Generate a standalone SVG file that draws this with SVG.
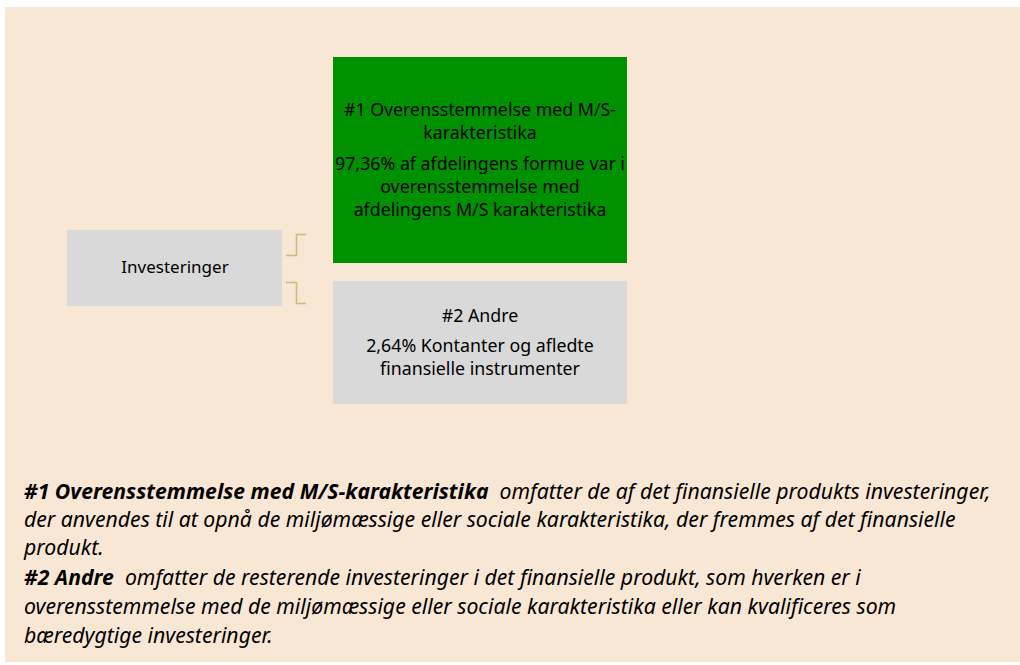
<svg xmlns="http://www.w3.org/2000/svg" width="1020" height="665" viewBox="0 0 1020 665">
<style>
.t{font-family:"Noto Sans","Liberation Sans",sans-serif;font-size:17.8px;fill:#000;text-anchor:middle}
.b{font-family:"Noto Sans","Liberation Sans",sans-serif;font-size:21.2px;font-style:italic;fill:#000}
.bb{font-weight:bold}
.c{fill:none;stroke:#c8b46a;stroke-width:1.6;stroke-opacity:0.85}
</style>
<rect x="5" y="7" width="1015" height="655" fill="#f9e7d5"/>
<g id="connectors">
<path class="c" d="M286 255.5 H296.5 V234.5 H306"/>
<path class="c" d="M286 282.5 H296.5 V303.5 H306"/>
</g>
<g id="investeringer">
<rect x="67" y="230" width="215" height="76" fill="#d9d9d9"/>
<text class="t" x="175" y="273" style="font-size:17px">Investeringer</text>
</g>
<g id="node1">
<rect x="333" y="57" width="294" height="206" fill="#009100"/>
<text class="t" x="480" y="116">#1 Overensstemmelse med M/S-</text>
<text class="t" x="480" y="139">karakteristika</text>
<text class="t" x="480" y="170">97,36% af afdelingens formue var i</text>
<text class="t" x="480" y="193">overensstemmelse med</text>
<text class="t" x="480" y="216">afdelingens M/S karakteristika</text>
</g>
<g id="node2">
<rect x="333" y="281" width="294" height="123" fill="#d9d9d9"/>
<text class="t" x="480" y="322">#2 Andre</text>
<text class="t" x="480" y="352">2,64% Kontanter og afledte</text>
<text class="t" x="480" y="375">finansielle instrumenter</text>
</g>
<g id="legend">
<text class="b" x="24" y="499"><tspan class="bb">#1 Overensstemmelse med M/S-karakteristika</tspan>&#160; omfatter de af det finansielle produkts investeringer,</text>
<text class="b" x="24" y="527">der anvendes til at opnå de miljømæssige eller sociale karakteristika, der fremmes af det finansielle</text>
<text class="b" x="24" y="555">produkt.</text>
<text class="b" x="24" y="585"><tspan class="bb">#2 Andre</tspan>&#160; omfatter de resterende investeringer i det finansielle produkt, som hverken er i</text>
<text class="b" x="24" y="614">overensstemmelse med de miljømæssige eller sociale karakteristika eller kan kvalificeres som</text>
<text class="b" x="24" y="643">bæredygtige investeringer.</text>
</g>
</svg>
